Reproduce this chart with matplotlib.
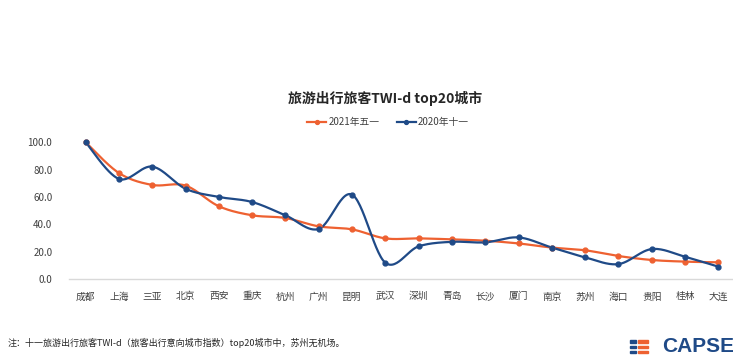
import numpy as np
import matplotlib.pyplot as plt
from matplotlib.patches import Rectangle

plt.rcParams['font.family'] = ['Noto Sans CJK SC', 'DejaVu Sans']

cities = ['成都', '上海', '三亚', '北京', '西安', '重庆', '杭州', '广州', '昆明', '武汉',
          '深圳', '青岛', '长沙', '厦门', '南京', '苏州', '海口', '贵阳', '桂林', '大连']
may2021 = [100.0, 77.5, 68.8, 68.3, 53.2, 46.6, 44.6, 38.5, 36.3, 29.7,
           29.7, 29.0, 28.0, 26.0, 23.0, 21.0, 16.8, 13.9, 12.7, 12.2]
oct2020 = [100.0, 73.2, 82.2, 66.0, 60.0, 56.3, 46.6, 36.6, 61.7, 11.9,
           23.9, 27.2, 26.8, 30.4, 23.0, 15.8, 10.9, 21.9, 16.3, 9.0]

c_orange = '#EE6131'
c_blue = '#1F4A87'
c_text = '#404040'


def smooth(x, y, n=30):
    # bezier smoothing like excel's "smoothed line"
    x = np.asarray(x, float)
    y = np.asarray(y, float)
    px = np.concatenate([[x[0]], x, [x[-1]]])
    py = np.concatenate([[y[0]], y, [y[-1]]])
    xs, ys = [], []
    t = np.linspace(0, 1, n)
    for i in range(len(x) - 1):
        p0 = np.array([px[i + 1], py[i + 1]])
        p3 = np.array([px[i + 2], py[i + 2]])
        p1 = p0 + (p3 - np.array([px[i], py[i]])) / 6
        p2 = p3 - (np.array([px[i + 3], py[i + 3]]) - p0) / 6
        b = ((1 - t) ** 3)[:, None] * p0 + (3 * (1 - t) ** 2 * t)[:, None] * p1 \
            + (3 * (1 - t) * t ** 2)[:, None] * p2 + (t ** 3)[:, None] * p3
        xs.extend(b[:, 0])
        ys.extend(b[:, 1])
    return xs, ys


fig = plt.figure(figsize=(7.33, 3.62), dpi=100)
ax = fig.add_axes([69 / 733, 83 / 362, 666 / 733, 150.4 / 362])

x = np.arange(len(cities))
for vals, col, lab in [(may2021, c_orange, '2021年五一'), (oct2020, c_blue, '2020年十一')]:
    sx, sy = smooth(x, vals)
    ax.plot(sx, sy, color=col, lw=1.6, clip_on=False, zorder=3)
    ax.plot(x, vals, 'o', color=col, ms=3.5, clip_on=False, zorder=4)
    ax.plot([], [], '-o', color=col, lw=1.6, ms=3.5, label=lab)

ax.set_xlim(-0.5, 19.5)
ax.set_ylim(0, 110)
ax.set_yticks(np.arange(0, 101, 20))
ax.set_yticklabels(['%.1f' % v for v in np.arange(0, 101, 20)])
ax.set_xticks(x)
ax.set_xticklabels(cities)
for s in ['top', 'right', 'left']:
    ax.spines[s].set_visible(False)
ax.spines['bottom'].set_color('#D9D9D9')
ax.spines['bottom'].set_linewidth(1)
ax.tick_params(axis='both', length=0, labelsize=7, colors=c_text)
ax.tick_params(axis='x', pad=9)
ax.tick_params(axis='y', pad=12)

fig.text(385 / 733, 1 - 98 / 362, '旅游出行旅客TWI-d top20城市', ha='center', va='center',
         fontsize=10, fontweight='bold', color='#262626')
fig.legend(loc='center', bbox_to_anchor=(388 / 733, 1 - 122 / 362), ncol=2, frameon=False,
           fontsize=7, handlelength=2, handletextpad=0.2, columnspacing=1.8,
           labelcolor=c_text, markerscale=0.8)

fig.text(8 / 733, 1 - 343 / 362,
         '注：十一旅游出行旅客TWI-d（旅客出行意向城市指数）top20城市中，苏州无机场。',
         ha='left', va='center', fontsize=6.5, color='#262626')

# CAPSE logo
for yy in [341.3, 346.7, 352.2]:
    fig.patches.append(Rectangle((630 / 733, 1 - (yy + 1.2) / 362), 6 / 733, 2.4 / 362,
                                 transform=fig.transFigure, color=c_blue))
    fig.patches.append(Rectangle((638 / 733, 1 - (yy + 1.2) / 362), 9.5 / 733, 2.4 / 362,
                                 transform=fig.transFigure, color=c_orange))
fig.text(662 / 733, 1 - 347 / 362, 'CAPSE', ha='left', va='center', fontsize=15,
         fontweight='bold', color=c_blue, family='Liberation Sans')

fig.savefig('out.png', dpi=100)
